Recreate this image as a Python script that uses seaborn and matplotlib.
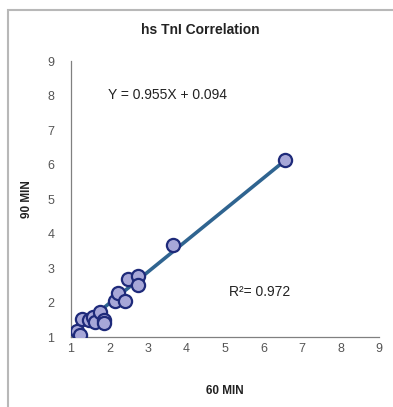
import matplotlib
matplotlib.use("Agg")
import matplotlib.pyplot as plt
import seaborn as sns
import pandas as pd
import numpy as np
from matplotlib.patches import Rectangle

# ---- data ----
min60 = [1.16, 1.23, 1.29, 1.48, 1.58, 1.62, 1.75, 1.86, 1.86, 2.14, 2.21, 2.40, 2.49, 2.75, 2.75, 3.66, 6.56]
min90 = [1.18, 1.06, 1.52, 1.50, 1.58, 1.45, 1.72, 1.50, 1.41, 2.05, 2.28, 2.05, 2.68, 2.78, 2.52, 3.68, 6.12]
slope = 0.955
intercept = 0.094
r2 = 0.972
fit_x = [1.02, 6.56]
fit_y = [1.10, 6.12]
ticks = [1, 2, 3, 4, 5, 6, 7, 8, 9]

df = pd.DataFrame({"60 MIN": min60, "90 MIN": min90})
fit_df = pd.DataFrame({"x": fit_x, "y": fit_y})

sns.set_style("white")
plt.rcParams["font.family"] = ["Liberation Sans", "DejaVu Sans"]

fig = plt.figure(figsize=(3.93, 4.07), dpi=100)
ax = fig.add_axes([71/393, 1-337.3/407, (379-71)/393, (337.3-61)/407])

# outer frame
fig.patches.append(Rectangle((8/393, -0.1), 1.2, 1 - 10/407 + 0.1, transform=fig.transFigure,
                             fill=False, edgecolor="#b8b8b8", linewidth=1.5, zorder=0))

sns.lineplot(data=fit_df, x="x", y="y", ax=ax, color="#2f6490", linewidth=2.6, zorder=2)
sns.scatterplot(data=df, x="60 MIN", y="90 MIN", ax=ax, s=90, color="#a7a7d8",
                edgecolor="#1e2a7a", linewidth=1.6, zorder=3)

ax.set_xlim(1, 9)
ax.set_ylim(1, 9)
ax.set_xticks(ticks)
ax.set_yticks(ticks)
ax.set_xticklabels([str(t) for t in ticks])
ax.set_yticklabels([str(t) for t in ticks])
ax.tick_params(axis="x", direction="in", length=3, width=0.8, color="#777777",
               labelsize=9, labelcolor="#555555", pad=4)
ax.tick_params(axis="y", direction="out", length=3, width=0.8, color="#777777",
               labelsize=9, labelcolor="#555555", pad=9)
for s in ["top", "right"]:
    ax.spines[s].set_visible(False)
for s in ["left", "bottom"]:
    ax.spines[s].set_color("#808080")
    ax.spines[s].set_linewidth(0.9)

ax.set_xlabel("60 MIN", fontsize=8.5, fontweight="bold", color="#222222", labelpad=22)
ax.set_ylabel("90 MIN", fontsize=8.5, fontweight="bold", color="#222222", labelpad=10)

fig.text(200/393, 1-30/407, "hs TnI Correlation", ha="center", va="center",
         fontsize=10, fontweight="bold", color="#222222")

ax.text(1.96, 8.02, f"Y = {slope}X + {intercept}", ha="left", va="center",
        fontsize=10, color="#222222")
ax.text(5.10, 2.32, f"R\u00b2= {r2}", ha="left", va="center",
        fontsize=10, color="#222222")

fig.savefig("out.png", dpi=100, facecolor="white")
